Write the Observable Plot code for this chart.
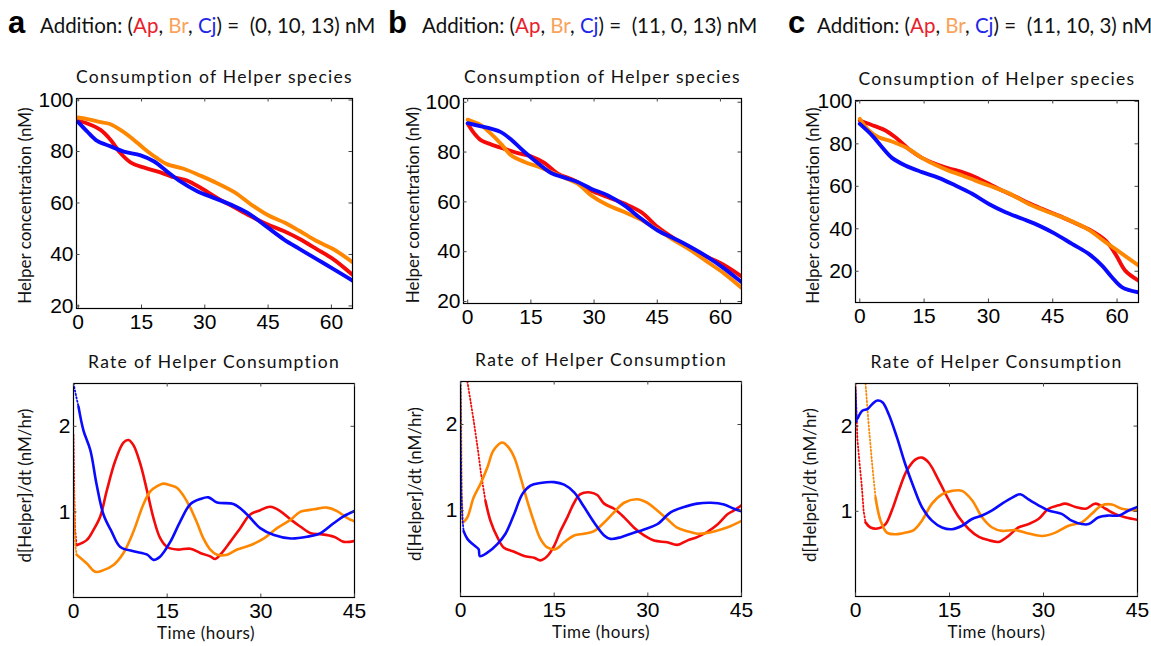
<!DOCTYPE html>
<html><head><meta charset="utf-8">
<script src="https://cdn.jsdelivr.net/npm/d3@7"></script>
<script src="https://cdn.jsdelivr.net/npm/@observablehq/plot@0.6"></script>
<style>
body{margin:0;background:#fff;}
#root{position:relative;width:1151px;height:646px;overflow:hidden;background:#fff;}
#root svg{position:absolute;overflow:visible;}
</style></head><body><div id="root"></div>
<script>
// ---------- data ----------
const panelLetters = ["a", "b", "c"];
const speciesNames = ["Ap", "Br", "Cj"];
const additions = [[0, 10, 13], [11, 0, 13], [11, 10, 3]];
const consXTicks = [0, 15, 30, 45, 60];
const consYTicks = [20, 40, 60, 80, 100];
const rateXTicks = [0, 15, 30, 45];
const rateYTicks = [1, 2];

// Consumption of Helper species (time h, concentration nM)
const aConsRed = [[0,91.9],[2,91],[5.3,88.4],[7.7,84.5],[10,79.4],[12.4,75.8],[15.5,73.8],[18.7,72.3],[22.7,70],[25.8,68.7],[29,65.9],[32.9,62],[36.9,58.4],[40.8,54.9],[44.8,51.7],[48.7,49.1],[52.6,45.9],[56.6,42],[60.5,38.1],[65,32.1]];
const aConsOrange = [[0,93.2],[2.5,92.5],[5,91.5],[7.5,90.7],[10,88.4],[13,84.8],[15.5,81.3],[18.5,77.6],[21,75.1],[25,73.3],[29,70.6],[32,68.4],[37,64.2],[41,59.4],[45,55.2],[49,52.3],[52.5,49.1],[56.5,45.2],[60.5,42],[65,37]];
const aConsBlue = [[0,91.4],[2.1,87.8],[4.5,84.1],[7.7,82],[10.8,80],[14.8,78.5],[17.9,76.2],[21,72.3],[24.2,68.4],[28.2,64.6],[32.1,62],[36.9,58.8],[40.8,55.5],[44.8,50.6],[48.7,45.9],[52.6,42],[56.6,38.1],[60.5,34.3],[65,29.8]];

const bConsRed = [[0,91.4],[1.6,87.4],[3.2,84.7],[5.5,83.1],[8.7,81.3],[11.9,79.6],[15,78.3],[18.2,75.6],[21.4,71.3],[25.3,68.6],[29.3,64.6],[33.3,61.9],[37.2,59.3],[41.2,55.9],[45.1,49.9],[49.1,45.2],[53,41.2],[57,37.8],[61,34.5],[65,30.1]];
const bConsOrange = [[0,93],[3.2,90.7],[5.5,87.4],[7.9,83.3],[10.3,78.7],[13.5,76],[16.6,74.2],[19.8,72],[23,69.7],[26.1,67.3],[29.3,62.6],[33.3,58.6],[37.2,55.9],[41.2,52.8],[45.1,48.8],[49.1,44.5],[53,40.5],[57,35.8],[61,31.1],[65,25.5]];
const bConsBlue = [[0,91.6],[3.2,90.3],[5.5,89.4],[7.9,88],[10.3,85],[13.5,80],[16.6,75.6],[19.8,71.6],[23,69.7],[26.1,68],[29.3,65.3],[33.3,62.6],[37.2,58.6],[41.2,53.2],[45.1,48.5],[49.1,45.2],[53,41.8],[57,37.8],[61,33.1],[65,27.8]];

const cConsRed = [[0,91],[3.7,88.2],[6,86.3],[8.3,83.1],[11.4,77.6],[14.5,73.4],[17.6,70.6],[20.7,68.5],[23.9,66.7],[27,64.3],[30.1,61.2],[33.2,58],[36.3,55.2],[39.4,52.1],[42.5,49.4],[46.4,46.2],[50.3,42.6],[54.2,38.9],[57.3,34.5],[59.6,28.2],[61.9,20.3],[65,15.6]];
const cConsOrange = [[0,91.8],[2.1,86.3],[4.4,83.1],[7.5,81.1],[11.4,77.6],[14.5,73.4],[17.6,70.1],[20.7,67.4],[23.9,65.1],[27,62.7],[30.1,60.4],[34.7,56.8],[39.4,51.7],[44.1,47.8],[48.7,44.2],[53.4,39.5],[57.3,33.7],[61.2,28.2],[65,22.7]];
const cConsBlue = [[0,89.4],[2.9,83.9],[5.2,78.4],[7.5,73.4],[10.6,69.8],[14.5,66.7],[18.4,64],[22.3,60.4],[26.2,56.5],[30.1,51.7],[34,47.8],[37.9,44.7],[41.8,41.5],[45.6,37.6],[49.5,32.9],[53.4,28.2],[56.5,22.7],[58.8,17.2],[61.2,12.4],[65,10.1]];

// Rate of Helper Consumption (time h, nM/hr); *Lead = sparse steep start
const aRateRedLead = [[0,1.9],[0.1,1.3],[0.25,0.8],[0.5,0.61]];
const aRateRed = [[0.5,0.61],[2.1,0.67],[3.2,0.79],[4.3,0.95],[5.3,1.24],[6.7,1.6],[8,1.81],[8.8,1.84],[9.6,1.78],[10.7,1.56],[11.8,1.24],[12.8,0.93],[13.9,0.69],[15,0.59],[16.6,0.56],[18.7,0.57],[20.3,0.52],[21.9,0.48],[22.7,0.45],[23.5,0.5],[25.1,0.65],[26.7,0.81],[28.3,0.97],[29.9,1.02],[31.5,1.06],[33.1,1.01],[34.8,0.91],[36.3,0.83],[38,0.75],[39.5,0.74],[41.7,0.71],[43.3,0.65],[45,0.66]];
const aRateOrangeLead = [[0,1.32],[0.15,0.9],[0.3,0.6],[0.5,0.5]];
const aRateOrange = [[0.5,0.5],[2.1,0.4],[3.5,0.3],[4.8,0.32],[6.4,0.38],[8,0.52],[9.6,0.77],[11.2,1.09],[12.3,1.24],[13.4,1.3],[14.4,1.33],[15.5,1.31],[16.6,1.28],[17.6,1.19],[18.7,1.05],[19.8,0.87],[20.8,0.69],[21.9,0.56],[23,0.5],[24.6,0.5],[26.2,0.56],[28.3,0.61],[30.5,0.69],[32.6,0.81],[34.8,0.91],[36.3,1.0],[38.5,1.03],[40.6,1.05],[42.2,1.01],[43.8,0.93],[45,0.89]];
const aRateBlueLead = [[0,2.5],[0.4,2.36],[0.8,2.23]];
const aRateBlue = [[0.8,2.23],[1.6,1.95],[2.7,1.72],[3.7,1.32],[4.8,0.97],[6.1,0.77],[7.5,0.59],[9.6,0.54],[11.8,0.5],[12.8,0.44],[13.9,0.48],[15.5,0.65],[17.1,0.89],[18.7,1.09],[20.3,1.15],[21.6,1.17],[23,1.11],[25.7,1.09],[27.8,0.97],[29.9,0.81],[32.1,0.73],[34.8,0.69],[37.4,0.71],[39.5,0.75],[41.7,0.87],[43.3,0.95],[45,1.01]];

const bRateRedLead = [[1.1,2.5],[2.1,2.05],[2.8,1.7],[3.3,1.42],[4,1.11]];
const bRateRed = [[4,1.11],[4.8,0.88],[5.9,0.69],[6.9,0.57],[8.6,0.52],[10.2,0.47],[11.8,0.45],[12.8,0.42],[13.9,0.47],[15,0.59],[16,0.76],[17.1,0.92],[18.2,1.09],[19.2,1.19],[20.8,1.21],[21.9,1.18],[23,1.08],[24.6,1.02],[26.2,0.92],[27.8,0.8],[29.4,0.71],[31,0.65],[33.1,0.63],[34.7,0.6],[36.3,0.65],[37.9,0.69],[39.5,0.75],[41.2,0.84],[42.8,0.96],[43.8,1.0],[45,1.06]];
const bRateOrangeLead = [[0,2.47],[0.1,2.2],[0.2,1.21],[0.4,0.86]];
const bRateOrange = [[0.4,0.86],[1.1,0.92],[2.1,1.15],[3.2,1.31],[4.3,1.5],[5.3,1.7],[6.7,1.79],[7.5,1.75],[8.6,1.62],[9.6,1.39],[10.7,1.11],[11.8,0.86],[12.8,0.67],[13.9,0.57],[15.2,0.55],[16.6,0.63],[18.2,0.71],[19.8,0.73],[21.4,0.76],[23,0.86],[24.6,0.98],[26.2,1.09],[28.3,1.13],[29.9,1.09],[31.5,1.0],[33.1,0.9],[34.7,0.8],[36.3,0.76],[37.9,0.73],[39.5,0.74],[41.7,0.78],[43.3,0.82],[45,0.88]];
const bRateBlueLead = [[0,2.5],[0.05,1.81],[0.15,1.2],[0.3,0.9],[0.5,0.76]];
const bRateBlue = [[0.5,0.76],[1.1,0.67],[2.1,0.6],[2.9,0.55],[3.1,0.47],[4.3,0.51],[5.9,0.61],[7.2,0.73],[8.6,0.96],[9.9,1.19],[11.2,1.29],[12.8,1.32],[15,1.33],[16.6,1.3],[18.2,1.21],[19.8,1.04],[21.4,0.86],[23,0.71],[24,0.67],[25.7,0.69],[27.3,0.73],[29.4,0.78],[31.5,0.84],[33.7,0.98],[35.8,1.04],[37.9,1.08],[40.1,1.09],[42.2,1.07],[43.8,1.02],[45,0.99]];

const cRateRedLead = [[0,2.5],[0.3,1.85],[0.6,1.6],[1.0,1.3],[1.3,1.0],[1.6,0.87]];
const cRateRed = [[1.6,0.87],[2.4,0.81],[3.7,0.8],[4.8,0.85],[5.8,1.01],[6.9,1.24],[8.2,1.48],[9.6,1.61],[10.6,1.63],[11.7,1.57],[13.3,1.36],[14.9,1.13],[16.5,0.93],[18.1,0.79],[19.7,0.7],[21.3,0.66],[22.8,0.64],[23.4,0.66],[24.4,0.71],[26,0.81],[27.6,0.85],[29.2,0.91],[30.8,1.03],[32.4,1.07],[33.5,1.09],[35.1,1.05],[36.7,1.03],[38.3,1.09],[39.9,1.03],[41.4,0.97],[43,0.93],[45,0.9]];
const cRateOrangeLead = [[1.6,2.5],[2.1,2.02],[2.7,1.52],[3.2,1.16]];
const cRateOrange = [[3.2,1.16],[4,0.89],[5,0.75],[6.4,0.73],[8,0.75],[9.3,0.78],[10.6,0.89],[12.2,1.09],[13.8,1.2],[15.4,1.24],[17,1.24],[18.6,1.13],[20.2,0.93],[21.8,0.81],[23.4,0.77],[25.5,0.78],[27.6,0.74],[29.8,0.71],[31.9,0.75],[34,0.83],[36.1,0.87],[37.7,0.97],[39.3,1.07],[40.9,1.08],[42.5,1.03],[45,1.01]];
const cRateBlueLead = [[0,2.43],[0.2,2.05],[0.4,2.1]];
const cRateBlue = [[0.4,2.1],[1.1,2.18],[1.9,2.2],[2.7,2.26],[3.5,2.3],[4.3,2.28],[5.3,2.14],[6.6,1.87],[8,1.54],[9.3,1.28],[10.6,1.05],[12.2,0.89],[13.8,0.81],[15.4,0.79],[17,0.83],[18.6,0.91],[20.2,0.95],[21.8,1.01],[23.4,1.09],[25,1.16],[26.3,1.2],[27.6,1.14],[29.2,1.07],[30.8,1.01],[32.9,0.97],[34.5,0.89],[36.1,0.85],[37.2,0.85],[38.8,0.93],[40.4,0.95],[42,0.95],[43.6,1.01],[45,1.05]];

// ---------- styling ----------
const RED = "#f50a0a", ORANGE = "#ff8700", BLUE = "#0a0aff";
const HDR = {Ap: "#e8202a", Br: "#f9a35a", Cj: "#1f28e8"};
const TICKFONT = "'Liberation Sans', Arial, Helvetica, sans-serif";
const LABFONT = "Lato, 'Open Sans', sans-serif";

const root = document.getElementById("root");

function panel(cfg) {
  const ml = 75, mt = 40, mr = 10, mb = 48;
  const fw = cfg.right - cfg.left, fh = cfg.bottom - cfg.top;
  const marks = [];
  for (const s of cfg.series) {
    if (s.lead) marks.push(Plot.line(s.lead, {x: d => d[0], y: d => d[1], stroke: s.color, strokeWidth: 1.8, strokeDasharray: "1.3,2.2", clip: true}));
    marks.push(Plot.line(s.data, {x: d => d[0], y: d => d[1], stroke: s.color, strokeWidth: cfg.sw, curve: "catmull-rom", clip: true}));
  }
  marks.push(Plot.frame({stroke: "#000", strokeWidth: 1.2}));
  const tl = 3.5;
  marks.push(Plot.tickX(cfg.xTicks, {x: d => d, insetTop: fh - tl, stroke: "#444"}));
  marks.push(Plot.tickX(cfg.xTicks, {x: d => d, insetBottom: fh - tl, stroke: "#444"}));
  marks.push(Plot.tickY(cfg.yTicks, {y: d => d, insetRight: fw - tl, stroke: "#444"}));
  marks.push(Plot.tickY(cfg.yTicks, {y: d => d, insetLeft: fw - tl, stroke: "#444"}));
  marks.push(Plot.axisX(cfg.xTicks, {tickSize: 0, tickPadding: 6, fontSize: 21, fontFamily: TICKFONT, fill: "#000", label: null, tickFormat: d => String(d)}));
  marks.push(Plot.axisY(cfg.yTicks, {tickSize: 0, tickPadding: 3, fontSize: 21, fontFamily: TICKFONT, fill: "#000", label: null, tickFormat: d => String(d)}));
  marks.push(Plot.text([cfg.title], {frameAnchor: "top", textAnchor: "middle", lineAnchor: "middle", dy: -21, text: d => d, fontSize: 17.5, fontFamily: LABFONT, fill: "#111"}));
  marks.push(Plot.text([cfg.ylabel], {frameAnchor: "left", textAnchor: "middle", lineAnchor: "middle", rotate: -90, dx: cfg.ylabelDx, dy: cfg.ylabelDy || 0, text: d => d, fontSize: 17, fontFamily: LABFONT, fill: "#111"}));
  if (cfg.xlabel) marks.push(Plot.text([cfg.xlabel], {frameAnchor: "bottom", textAnchor: "middle", lineAnchor: "middle", dy: 36, dx: cfg.xlabelDx || 0, text: d => d, fontSize: 17, fontFamily: LABFONT, fill: "#111"}));
  const svg = Plot.plot({
    width: fw + ml + mr, height: fh + mt + mb,
    marginLeft: ml, marginTop: mt, marginRight: mr, marginBottom: mb,
    x: {domain: cfg.xDomain}, y: {domain: cfg.yDomain},
    style: {background: "transparent", fontFamily: TICKFONT, overflow: "visible"},
    marks
  });
  const sel = d3.select(svg).selectAll("text");
  sel.filter(function() { return this.textContent === cfg.title; }).style("letter-spacing", "1.3px");
  sel.filter(function() { return this.textContent === cfg.xlabel; }).style("letter-spacing", "0.5px");
  svg.style.left = (cfg.left - ml) + "px";
  svg.style.top = (cfg.top - mt) + "px";
  root.appendChild(svg);
}

const consTitle = "Consumption of Helper species";
const rateTitle = "Rate of Helper Consumption";
const consLabel = "Helper concentration (nM)";
const rateLabel = "d[Helper]/dt (nM/hr)";
const timeLabel = "Time (hours)";

const consSeries = [
  [aConsRed, aConsOrange, aConsBlue],
  [bConsRed, bConsOrange, bConsBlue],
  [cConsRed, cConsOrange, cConsBlue]
];
const rateSeries = [
  [[aRateRed, aRateRedLead], [aRateOrange, aRateOrangeLead], [aRateBlue, aRateBlueLead]],
  [[bRateRed, bRateRedLead], [bRateOrange, bRateOrangeLead], [bRateBlue, bRateBlueLead]],
  [[cRateRed, cRateRedLead], [cRateOrange, cRateOrangeLead], [cRateBlue, cRateBlueLead]]
];
const colors = [RED, ORANGE, BLUE];

const consFrames = [
  {left: 76, right: 352, top: 98, bottom: 308, xDomain: [-0.4, 65], yDomain: [19, 100.6], ylabelDx: -51, ylabelDy: 2},
  {left: 463, right: 741, top: 98, bottom: 303, xDomain: [-1, 65], yDomain: [19.2, 101.5], ylabelDx: -50, ylabelDy: 4},
  {left: 855, right: 1138, top: 100, bottom: 302, xDomain: [-1, 65], yDomain: [5.3, 100.4], ylabelDx: -42, ylabelDy: 4}
];
const rateFrames = [
  {left: 73, right: 354, top: 383, bottom: 597, ylabelDx: -48, ylabelDy: -5, xlabelDx: -8},
  {left: 460, right: 741, top: 381, bottom: 596, ylabelDx: -45, ylabelDy: -5, xlabelDx: 0},
  {left: 855, right: 1137, top: 383, bottom: 596, ylabelDx: -45, ylabelDy: -5, xlabelDx: 0}
];

for (let i = 0; i < 3; i++) {
  panel({...consFrames[i], sw: 3.9, xTicks: consXTicks, yTicks: consYTicks, title: consTitle, ylabel: consLabel,
    series: consSeries[i].map((d, k) => ({data: d, color: colors[k]}))});
  panel({...rateFrames[i], sw: 2.6, xDomain: [0, 45], yDomain: [0, 2.5], xTicks: rateXTicks, yTicks: rateYTicks,
    title: rateTitle, ylabel: rateLabel, xlabel: timeLabel,
    series: rateSeries[i].map(([d, lead], k) => ({data: d, lead, color: colors[k]}))});
}

// ---------- headers ----------
const hdrPos = [{letter: 8, text: 40}, {letter: 388, text: 422}, {letter: 788, text: 817}];
const hdr = d3.create("svg").attr("width", 1151).attr("height", 50).style("left", "0px").style("top", "0px");
hdrPos.forEach((p, i) => {
  hdr.append("text").attr("x", p.letter).attr("y", 33).attr("font-family", TICKFONT).attr("font-weight", "bold")
    .attr("font-size", 31).attr("fill", "#000").text(panelLetters[i]);
  const t = hdr.append("text").attr("x", p.text).attr("y", 33).attr("font-family", LABFONT).attr("font-size", 20.5).attr("fill", "#111")
    .attr("xml:space", "preserve").style("white-space", "pre");
  t.append("tspan").text("Addition: (");
  speciesNames.forEach((n, k) => {
    t.append("tspan").attr("fill", HDR[n]).text(n);
    t.append("tspan").text(k < 2 ? ", " : ") =  ");
  });
  t.append("tspan").text("(" + additions[i].join(", ") + ") nM");
});
root.appendChild(hdr.node());
</script></body></html>
